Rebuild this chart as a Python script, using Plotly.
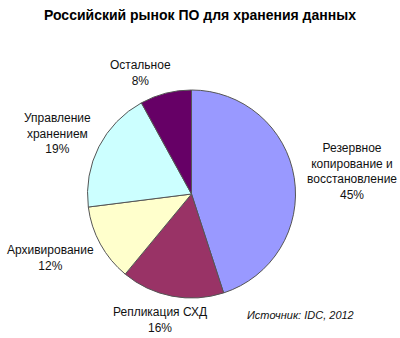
import plotly.graph_objects as go

categories = ["Резервное копирование и восстановление", "Репликация СХД", "Архивирование",
              "Управление хранением", "Остальное"]
label_texts = ["Резервное<br>копирование и<br>восстановление<br>45%", "Репликация СХД<br>16%",
               "Архивирование<br>12%", "Управление<br>хранением<br>19%", "Остальное<br>8%"]
values = [45, 16, 12, 19, 8]
colors = ["#9999FF", "#993366", "#FFFFCC", "#CCFFFF", "#660066"]
label_pos = [(352, 171), (160, 320), (50, 258), (58, 133), (140, 73)]

fig = go.Figure(go.Pie(
    labels=categories, values=values, sort=False, direction="clockwise", rotation=0,
    marker=dict(colors=colors, line=dict(color="#555555", width=1)),
    textinfo="none", hoverinfo="label+percent",
    domain=dict(x=[87/400, 296/400], y=[1-298/338, 1-90/338]),
    showlegend=False,
))

font = dict(family="Liberation Sans, Arial, sans-serif", size=12, color="#111111")
anns = []
for t, (x, y) in zip(label_texts, label_pos):
    anns.append(dict(x=x/400, y=1-y/338, xref="paper", yref="paper", text=t, showarrow=False,
                     font=font, align="center", xanchor="center", yanchor="middle"))
anns.append(dict(x=300/400, y=1-315/338, xref="paper", yref="paper",
                 text="<i>Источник: IDC, 2012</i>", showarrow=False,
                 font=dict(family="Liberation Sans, Arial, sans-serif", size=11, color="#111111"),
                 xanchor="center", yanchor="middle"))
anns.append(dict(x=0.5, y=1-15/338, xref="paper", yref="paper",
                 text="<b>Российский рынок ПО для хранения данных</b>", showarrow=False,
                 font=dict(family="Liberation Sans, Arial, sans-serif", size=14, color="#000000"),
                 xanchor="center", yanchor="middle"))

fig.update_layout(width=400, height=338, margin=dict(l=0, r=0, t=0, b=0),
                  paper_bgcolor="white", plot_bgcolor="white", annotations=anns)
fig.write_html("out.html")
